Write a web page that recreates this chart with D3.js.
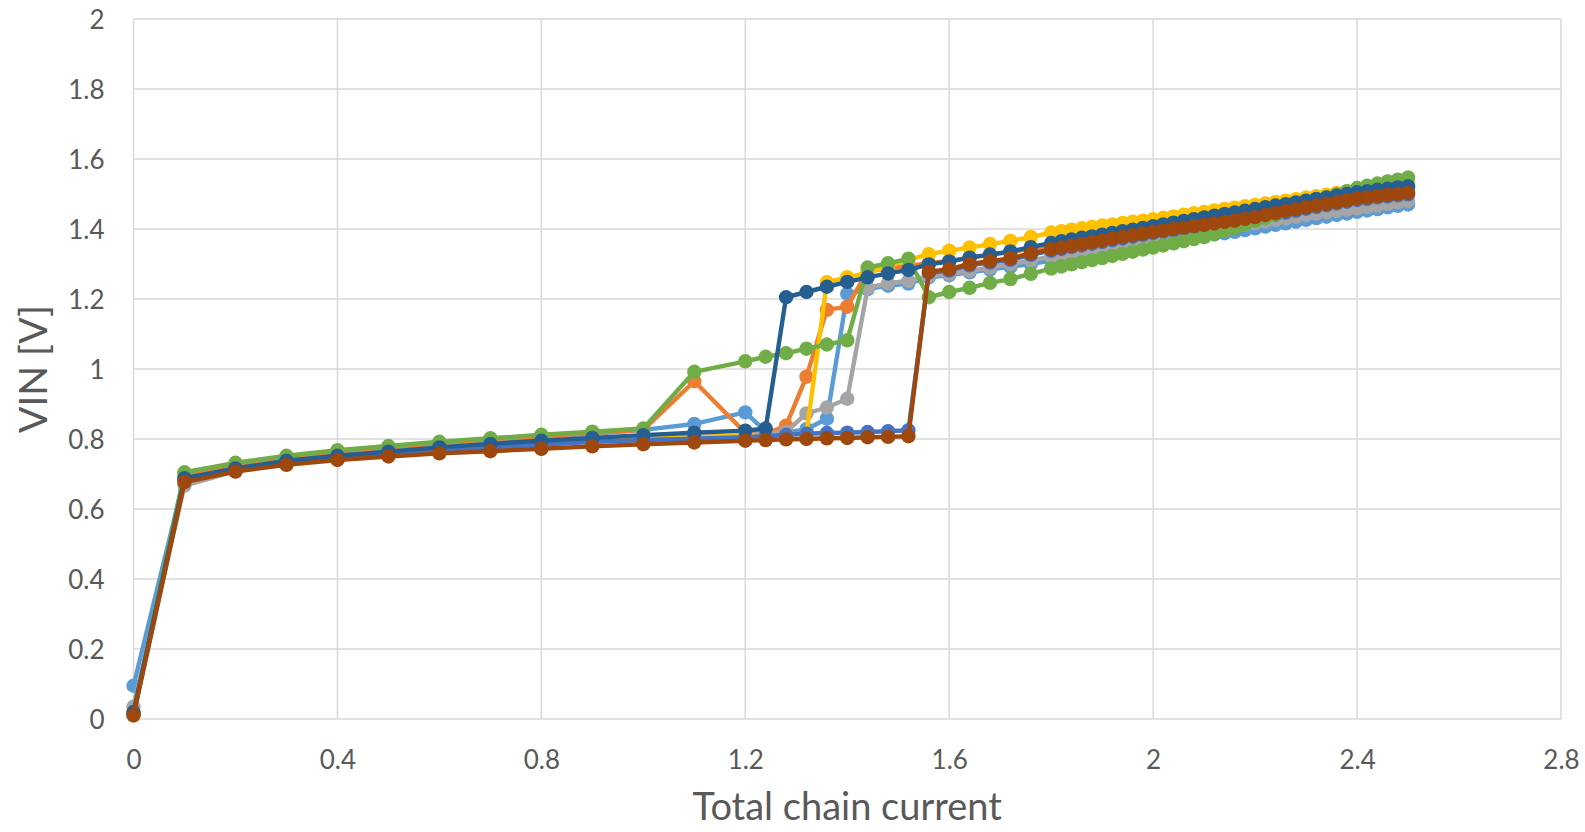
<!DOCTYPE html>
<html>
<head>
<meta charset="utf-8">
<script src="https://cdn.jsdelivr.net/npm/d3@7"></script>
<style>
  html, body { margin: 0; padding: 0; background: #ffffff; }
  svg { display: block; }
  text { font-family: Lato, "Open Sans", sans-serif; fill: #595959; }
</style>
</head>
<body>
<svg id="chart" width="1585" height="832"></svg>
<script>
// Total chain current (x) sample points
const currents = [
  0, 0.1, 0.2, 0.3, 0.4, 0.5, 0.6, 0.7, 0.8, 0.9, 1.0, 1.1, 1.2,
  1.24, 1.28, 1.32, 1.36, 1.40, 1.44, 1.48, 1.52, 1.56, 1.60, 1.64, 1.68, 1.72, 1.76, 1.80,
  1.82, 1.84, 1.86, 1.88, 1.90, 1.92, 1.94, 1.96, 1.98, 2.00,
  2.02, 2.04, 2.06, 2.08, 2.10, 2.12, 2.14, 2.16, 2.18, 2.20,
  2.22, 2.24, 2.26, 2.28, 2.30, 2.32, 2.34, 2.36, 2.38, 2.40,
  2.42, 2.44, 2.46, 2.48, 2.50
];

// VIN [V] per series, aligned with currents
const vinA = [ // light blue
  0.095, 0.690, 0.722, 0.742, 0.758, 0.770, 0.784, 0.795, 0.806, 0.815, 0.826, 0.843, 0.876,
  0.822, 0.818, 0.828, 0.858, 1.215, 1.228, 1.238, 1.244, 1.262, 1.268, 1.276, 1.284, 1.292, 1.300, 1.310,
  1.315, 1.321, 1.326, 1.332, 1.337, 1.343, 1.348, 1.353, 1.359, 1.364,
  1.368, 1.371, 1.375, 1.378, 1.382, 1.385, 1.388, 1.392, 1.397, 1.402,
  1.407, 1.412, 1.416, 1.421, 1.426, 1.431, 1.435, 1.440, 1.444, 1.449,
  1.453, 1.457, 1.462, 1.466, 1.470
];
const vinB = [ // orange
  0.015, 0.700, 0.727, 0.748, 0.764, 0.776, 0.788, 0.799, 0.808, 0.817, 0.826, 0.965, 0.818,
  0.815, 0.838, 0.978, 1.169, 1.178, 1.280, 1.287, 1.295, 1.302, 1.309, 1.318, 1.326, 1.334, 1.343, 1.354,
  1.359, 1.364, 1.369, 1.373, 1.378, 1.383, 1.388, 1.392, 1.397, 1.402,
  1.407, 1.412, 1.417, 1.422, 1.427, 1.432, 1.437, 1.441, 1.446, 1.451,
  1.456, 1.461, 1.465, 1.470, 1.475, 1.480, 1.484, 1.489, 1.494, 1.499,
  1.502, 1.506, 1.509, 1.513, 1.516
];
const vinC = [ // gray
  0.035, 0.667, 0.708, 0.729, 0.744, 0.756, 0.767, 0.776, 0.784, 0.792, 0.798, 0.804, 0.810,
  0.815, 0.820, 0.873, 0.890, 0.915, 1.232, 1.245, 1.252, 1.265, 1.272, 1.280, 1.290, 1.300, 1.310, 1.322,
  1.327, 1.333, 1.338, 1.344, 1.349, 1.354, 1.360, 1.365, 1.371, 1.376,
  1.380, 1.384, 1.388, 1.392, 1.396, 1.400, 1.404, 1.407, 1.412, 1.416,
  1.421, 1.426, 1.430, 1.435, 1.440, 1.444, 1.448, 1.452, 1.455, 1.459,
  1.463, 1.467, 1.472, 1.476, 1.480
];
const vinD = [ // yellow
  0.020, 0.685, 0.712, 0.733, 0.748, 0.760, 0.771, 0.781, 0.789, 0.797, 0.802, 0.806, 0.810,
  0.808, 0.812, 0.815, 1.248, 1.262, 1.275, 1.294, 1.312, 1.328, 1.338, 1.347, 1.357, 1.366, 1.377, 1.390,
  1.394, 1.398, 1.402, 1.406, 1.410, 1.413, 1.417, 1.421, 1.424, 1.428,
  1.432, 1.436, 1.441, 1.445, 1.449, 1.453, 1.457, 1.461, 1.465, 1.469,
  1.473, 1.477, 1.481, 1.485, 1.490, 1.494, 1.498, 1.503, 1.507, 1.512,
  1.516, 1.521, 1.525, 1.530, 1.535
];
const vinE = [ // blue
  0.015, 0.682, 0.709, 0.730, 0.745, 0.757, 0.767, 0.776, 0.784, 0.792, 0.797, 0.801, 0.805,
  0.808, 0.812, 0.815, 0.817, 0.818, 0.820, 0.822, 0.825, 1.275, 1.281, 1.296, 1.304, 1.312, 1.326, 1.338,
  1.343, 1.348, 1.353, 1.358, 1.363, 1.368, 1.373, 1.378, 1.383, 1.388,
  1.392, 1.396, 1.400, 1.404, 1.408, 1.412, 1.416, 1.420, 1.425, 1.430,
  1.436, 1.441, 1.447, 1.452, 1.458, 1.463, 1.468, 1.473, 1.478, 1.483,
  1.486, 1.490, 1.493, 1.496, 1.499
];
const vinF = [ // green
  0.015, 0.705, 0.732, 0.752, 0.768, 0.780, 0.792, 0.802, 0.812, 0.821, 0.830, 0.992, 1.022,
  1.035, 1.045, 1.058, 1.070, 1.082, 1.290, 1.302, 1.315, 1.205, 1.220, 1.232, 1.246, 1.257, 1.272, 1.287,
  1.293, 1.299, 1.305, 1.311, 1.317, 1.323, 1.329, 1.335, 1.341, 1.347,
  1.353, 1.359, 1.365, 1.371, 1.377, 1.385, 1.394, 1.403, 1.413, 1.423,
  1.432, 1.442, 1.452, 1.462, 1.472, 1.481, 1.490, 1.499, 1.508, 1.517,
  1.524, 1.530, 1.536, 1.541, 1.547
];
const vinG = [ // dark blue
  0.020, 0.688, 0.716, 0.738, 0.752, 0.764, 0.776, 0.786, 0.795, 0.803, 0.811, 0.818, 0.824,
  0.830, 1.205, 1.220, 1.235, 1.249, 1.262, 1.273, 1.283, 1.299, 1.307, 1.318, 1.327, 1.336, 1.348, 1.360,
  1.365, 1.370, 1.375, 1.379, 1.384, 1.389, 1.394, 1.398, 1.403, 1.408,
  1.413, 1.418, 1.423, 1.428, 1.433, 1.438, 1.443, 1.447, 1.452, 1.457,
  1.462, 1.467, 1.471, 1.476, 1.481, 1.486, 1.490, 1.495, 1.500, 1.505,
  1.508, 1.512, 1.515, 1.519, 1.522
];
const vinH = [ // brown
  0.010, 0.677, 0.707, 0.726, 0.740, 0.750, 0.759, 0.765, 0.772, 0.779, 0.785, 0.790, 0.795,
  0.797, 0.799, 0.800, 0.802, 0.803, 0.805, 0.806, 0.808, 1.278, 1.285, 1.300, 1.308, 1.316, 1.330, 1.342,
  1.347, 1.352, 1.357, 1.362, 1.367, 1.372, 1.377, 1.382, 1.387, 1.392,
  1.396, 1.400, 1.404, 1.408, 1.412, 1.416, 1.420, 1.424, 1.429, 1.434,
  1.440, 1.445, 1.451, 1.456, 1.462, 1.467, 1.472, 1.477, 1.482, 1.487,
  1.490, 1.494, 1.497, 1.500, 1.503
];

const seriesValues = [vinA, vinB, vinC, vinD, vinE, vinF, vinG, vinH];
const seriesColors = ["#5B9BD5", "#ED7D31", "#A5A5A5", "#FFC000", "#4472C4", "#70AD47", "#255E91", "#9E480E"];

const xTicks = [0, 0.4, 0.8, 1.2, 1.6, 2, 2.4, 2.8];
const yTicks = [0, 0.2, 0.4, 0.6, 0.8, 1, 1.2, 1.4, 1.6, 1.8, 2];
const xTitle = "Total chain current";
const yTitle = "VIN [V]";

const svg = d3.select("#chart");
const plot = { left: 133.5, right: 1561, top: 19, bottom: 719 };

const x = d3.scaleLinear().domain([0, 2.8]).range([plot.left, plot.right]);
const y = d3.scaleLinear().domain([0, 2]).range([plot.bottom, plot.top]);

// gridlines
const grid = svg.append("g");
grid.selectAll("line.h").data(yTicks).join("line")
  .attr("x1", plot.left).attr("x2", plot.right)
  .attr("y1", d => y(d)).attr("y2", d => y(d))
  .attr("stroke", "#D9D9D9").attr("stroke-width", 1.5);
grid.selectAll("line.v").data(xTicks).join("line")
  .attr("y1", plot.top).attr("y2", plot.bottom)
  .attr("x1", d => x(d)).attr("x2", d => x(d))
  .attr("stroke", "#D9D9D9").attr("stroke-width", 1.5);

// axes labels
const fmt = d => String(d);
const xAxis = d3.axisBottom(x).tickValues(xTicks).tickFormat(fmt).tickSize(0).tickPadding(0);
const gx = svg.append("g").attr("transform", `translate(0,${plot.bottom})`).call(xAxis);
gx.select(".domain").remove();
gx.selectAll("text").attr("dy", null).attr("y", 50)
  .style("font-size", "26px").style("font-family", "Lato, sans-serif").attr("fill", "#595959");

const yAxis = d3.axisLeft(y).tickValues(yTicks).tickFormat(fmt).tickSize(0).tickPadding(0);
const gy = svg.append("g").attr("transform", `translate(${plot.left - 29},0)`).call(yAxis);
gy.select(".domain").remove();
gy.selectAll("text").attr("dy", "0.36em").attr("x", 0)
  .style("font-size", "26px").style("font-family", "Lato, sans-serif").attr("fill", "#595959");

// axis titles
svg.append("text").attr("x", (plot.left + plot.right) / 2).attr("y", 820)
  .attr("text-anchor", "middle").style("font-size", "38px").text(xTitle);
svg.append("text")
  .attr("transform", `translate(47,${(plot.top + plot.bottom) / 2}) rotate(-90)`)
  .attr("text-anchor", "middle").style("font-size", "39px").text(yTitle);

// series: lines with round markers, drawn in order
const line = d3.line().x(d => x(d[0])).y(d => y(d[1]));
seriesValues.forEach((vals, i) => {
  const pts = currents.map((c, j) => [c, vals[j]]);
  const g = svg.append("g");
  g.append("path").datum(pts)
    .attr("d", line).attr("fill", "none")
    .attr("stroke", seriesColors[i]).attr("stroke-width", 4.4)
    .attr("stroke-linejoin", "round");
  g.selectAll("circle").data(pts).join("circle")
    .attr("cx", d => x(d[0])).attr("cy", d => y(d[1]))
    .attr("r", 7.2).attr("fill", seriesColors[i]);
});
</script>
</body>
</html>
